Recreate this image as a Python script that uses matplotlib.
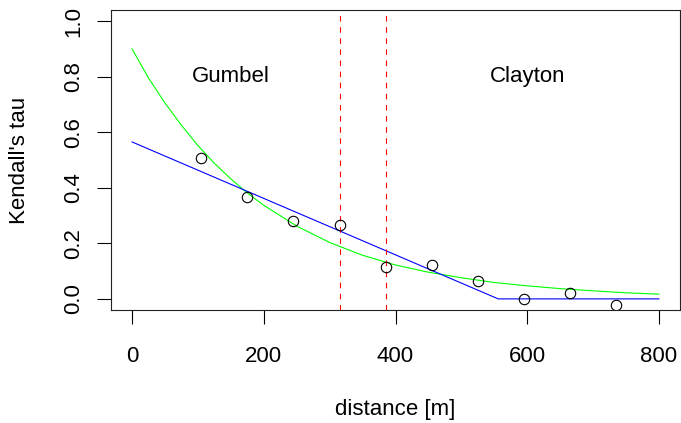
import matplotlib
matplotlib.use("Agg")
import matplotlib.pyplot as plt

# observed points
dist = [105, 175, 245, 315, 385, 455, 525, 595, 665, 735]
tau = [0.506, 0.366, 0.280, 0.265, 0.114, 0.121, 0.064, -0.001, 0.020, -0.023]

# green fitted curve
g_x = [0, 25, 50, 75, 100, 125, 150, 175, 200, 250, 300, 350, 400, 450, 500, 550, 600, 650, 700, 750, 800]
g_y = [0.90, 0.795, 0.705, 0.625, 0.552, 0.488, 0.432, 0.381, 0.337, 0.262, 0.203, 0.157, 0.122, 0.096,
       0.076, 0.059, 0.047, 0.037, 0.029, 0.022, 0.017]

# blue fitted curve
b_x = [0, 556, 800]
b_y = [0.565, 0.0, 0.0]

# vertical separators
vlines = [315, 385]

regions = ["Gumbel", "Clayton"]
region_x = [150, 600]
region_y = [0.80, 0.80]

xticks = [0, 200, 400, 600, 800]
yticks = [0.0, 0.2, 0.4, 0.6, 0.8, 1.0]

plt.rcParams['font.family'] = ['Liberation Sans', 'DejaVu Sans']
fs = 16

fig = plt.figure(figsize=(6.81, 4.23), dpi=100)
W, H = 681, 423
ax = fig.add_axes([111 / W, 1 - 310 / H, (680 - 111) / W, 300 / H])

ax.plot(g_x, g_y, color='#00FF00', lw=0.8)
ax.plot(b_x, b_y, color='#0000FF', lw=0.8)
for v in vlines:
    ax.axvline(v, color='#FF0000', lw=0.8, linestyle=(0, (5, 5)))
ax.plot(dist, tau, linestyle='none', marker='o', ms=7.5, mfc='none',
        mec='black', mew=0.8)

for t, x, y in zip(regions, region_x, region_y):
    ax.text(x, y, t, ha='center', va='center', fontsize=fs)

ax.set_xlim(-32, 832)
ax.set_ylim(-0.04, 1.04)
ax.set_xticks(xticks)
ax.set_xticklabels([str(v) for v in xticks])
ax.set_yticks(yticks)
ax.set_yticklabels([f"{v:.1f}" for v in yticks], rotation=90, va='center')
ax.tick_params(axis='both', length=9.8, width=0.8, labelsize=fs, color='black')
ax.tick_params(axis='x', pad=16)
ax.tick_params(axis='y', pad=9.5)
for s in ax.spines.values():
    s.set_linewidth(0.8)
    s.set_color('#222222')

ax.set_xlabel("distance [m]", fontsize=fs, va='center')
ax.xaxis.set_label_coords(0.5, -(410 - 310) / 300)
ax.set_ylabel("Kendall's tau", fontsize=fs, va='center')
ax.yaxis.set_label_coords((20 - 111) / 569, 0.5)

fig.savefig("out.png", dpi=100)
